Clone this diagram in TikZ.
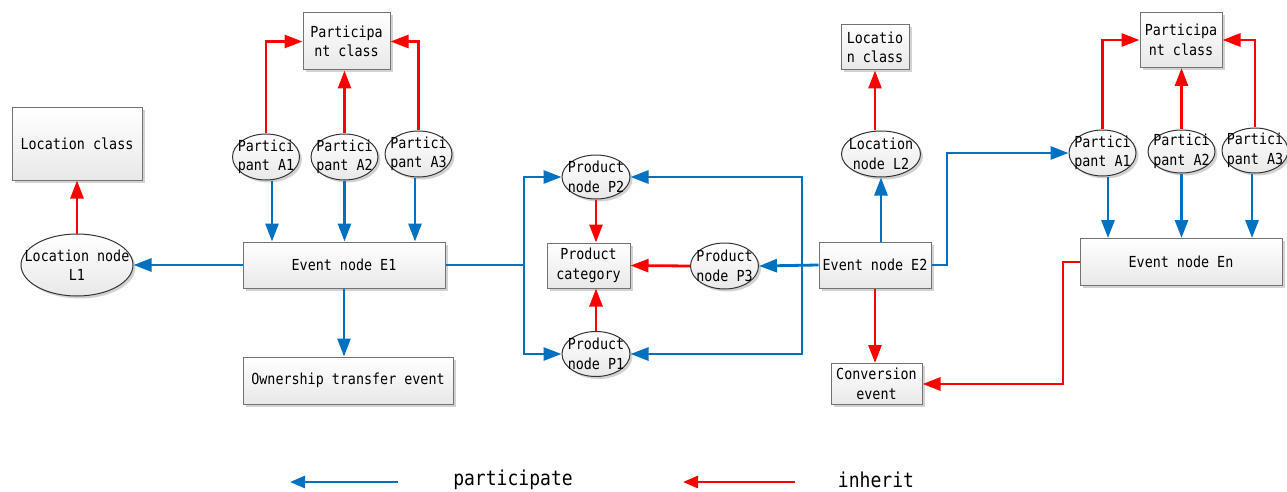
\documentclass[tikz,border=0pt]{standalone}
\usepackage{fontspec}
\usetikzlibrary{shapes.geometric,arrows.meta,shadows}
\newfontfamily\dfont[FakeStretch=0.88]{DejaVu Sans Mono}
\definecolor{pblue}{RGB}{0,112,192}
\definecolor{ired}{RGB}{255,0,0}
\tikzset{
  shad/.style={drop shadow={shadow xshift=2.5pt,shadow yshift=-2.5pt,fill=black!35,opacity=0.5}},
  box/.style={rectangle,draw=black!55,line width=1pt,top color=white,bottom color=black!9,shad,
    inner sep=0pt,align=center,font=\dfont\fontsize{15.2}{19.5}\selectfont},
  ell/.style={ellipse,draw=black!80,line width=1pt,top color=white,bottom color=black!9,shad,inner sep=0pt},
  etext/.style={align=center,font=\dfont\fontsize{15.2}{19.5}\selectfont,inner sep=0pt},
  part/.style={draw=pblue,line width=2.8pt,-{Triangle[length=18pt,width=13pt]}},
  inh/.style={draw=ired,line width=2.8pt,-{Triangle[length=18pt,width=13pt]}},
  legtext/.style={font=\dfont\fontsize{20.5}{24}\selectfont,inner sep=0pt}
}
\newcommand{\ellnode}[6]{\node[ell,minimum width=#4pt,minimum height=#5pt] (#1) at (#2,#3) {};
  \node[etext] at (#1.center) {#6};}
\begin{document}
\begin{tikzpicture}[x=1pt,y=-1pt]
\useasboundingbox (0,0) rectangle (1287,492);
% boxes
\node[box,minimum width=130pt,minimum height=72pt] (lc1) at (77,144) {Location class};
\node[box,minimum width=87pt,minimum height=57pt] (pc1) at (346.5,41.5) {Participa\\nt class};
\node[box,minimum width=202pt,minimum height=46pt] (e1) at (344,265) {Event node E1};
\node[box,minimum width=210pt,minimum height=47pt] (own) at (348,380.5) {Ownership transfer event};
\node[box,minimum width=83pt,minimum height=45pt] (cat) at (588.5,265.5) {Product\\category};
\node[box,minimum width=112pt,minimum height=46pt] (e2) at (875,265) {Event node E2};
\node[box,minimum width=68pt,minimum height=45pt] (lc2) at (875,47.5) {Locatio\\n class};
\node[box,minimum width=82pt,minimum height=55pt] (pc2) at (1181,40) {Participa\\nt class};
\node[box,minimum width=202pt,minimum height=47pt] (en) at (1181,262) {Event node En};
\node[box,minimum width=91pt,minimum height=41pt] (conv) at (876.5,384) {Conversion\\event};
% ellipses
\ellnode{l1}{77}{265}{112}{62}{Location node\\L1}
\ellnode{a1}{266}{157}{67}{46}{Partici\\pant A1}
\ellnode{a2}{344.5}{157}{67}{46}{Partici\\pant A2}
\ellnode{a3}{418.5}{154}{67}{46}{Partici\\pant A3}
\ellnode{p2}{596}{177}{68}{44}{Product\\node P2}
\ellnode{p3}{724.5}{266}{68}{46}{Product\\node P3}
\ellnode{p1}{596}{354}{68}{45}{Product\\node P1}
\ellnode{l2}{881}{154}{79}{46}{Location\\node L2}
\ellnode{b1}{1102.5}{153}{67}{46}{Partici\\pant A1}
\ellnode{b2}{1181.5}{151.5}{67}{43}{Partici\\pant A2}
\ellnode{b3}{1255}{150.5}{66}{45}{Partici\\pant A3}
% left part
\draw[inh] (l1.north) -- (lc1.south);
\draw[part] (e1.west) -- (l1.east);
\draw[inh] (a1.north) |- (pc1.west);
\draw[inh] (a2.north) -- (a2.north |- pc1.south);
\draw[inh] (a3.north) |- (pc1.east);
\draw[part] ([xshift=6pt]a1.south) -- ([xshift=6pt]a1.south |- e1.north);
\draw[part] (a2.south) -- (a2.south |- e1.north);
\draw[part] ([xshift=-3.5pt]a3.south) -- ([xshift=-3.5pt]a3.south |- e1.north);
\draw[part] (e1.south) -- (e1.south |- own.north);
% product part
\coordinate (j1) at (524,265);
\coordinate (j2) at (802,265);
\draw[part] (e1.east) -- (j1) |- (p2.west);
\draw[part] (j1) |- (p1.west);
\draw[part] (e2.west) -- (p3.east);
\draw[part] (j2) |- (p2.east);
\draw[part] (j2) |- (p1.east);
\draw[inh] (p2.south) -- (p2.south |- cat.north);
\draw[inh] (p1.north) -- (p1.north |- cat.south);
\draw[inh] (p3.west) -- (cat.east);
% right part
\draw[part] (l2.south |- e2.north) -- (l2.south);
\draw[inh] (lc2.south |- l2.north) -- (lc2.south);
\coordinate (j3) at (947,265);
\draw[part] (e2.east) -- (j3) |- (b1.west);
\draw[inh] (b1.north) |- (pc2.west);
\draw[inh] (b2.north) -- (b2.north |- pc2.south);
\draw[inh] (b3.north) |- (pc2.east);
\draw[part] ([xshift=5.5pt]b1.south) -- ([xshift=5.5pt]b1.south |- en.north);
\draw[part] (b2.south) -- (b2.south |- en.north);
\draw[part] ([xshift=-3pt]b3.south) -- ([xshift=-3pt]b3.south |- en.north);
\coordinate (j4) at (1063,262);
\draw[inh] (en.west) -- (j4) |- (conv.east);
\draw[inh] (e2.south) -- (e2.south |- conv.north);
% legend
\coordinate (lb1) at (398,482);
\coordinate (lb2) at (290,482);
\coordinate (lr1) at (795,482);
\coordinate (lr2) at (683,482);
\draw[part,-{Triangle[length=15pt,width=12pt]}] (lb1) -- (lb2);
\draw[inh,-{Triangle[length=15pt,width=12pt]}] (lr1) -- (lr2);
\node[legtext] (lt1) at (513,479.5) {participate};
\node[legtext] (lt2) at (876,479.5) {inherit};
\end{tikzpicture}
\end{document}
